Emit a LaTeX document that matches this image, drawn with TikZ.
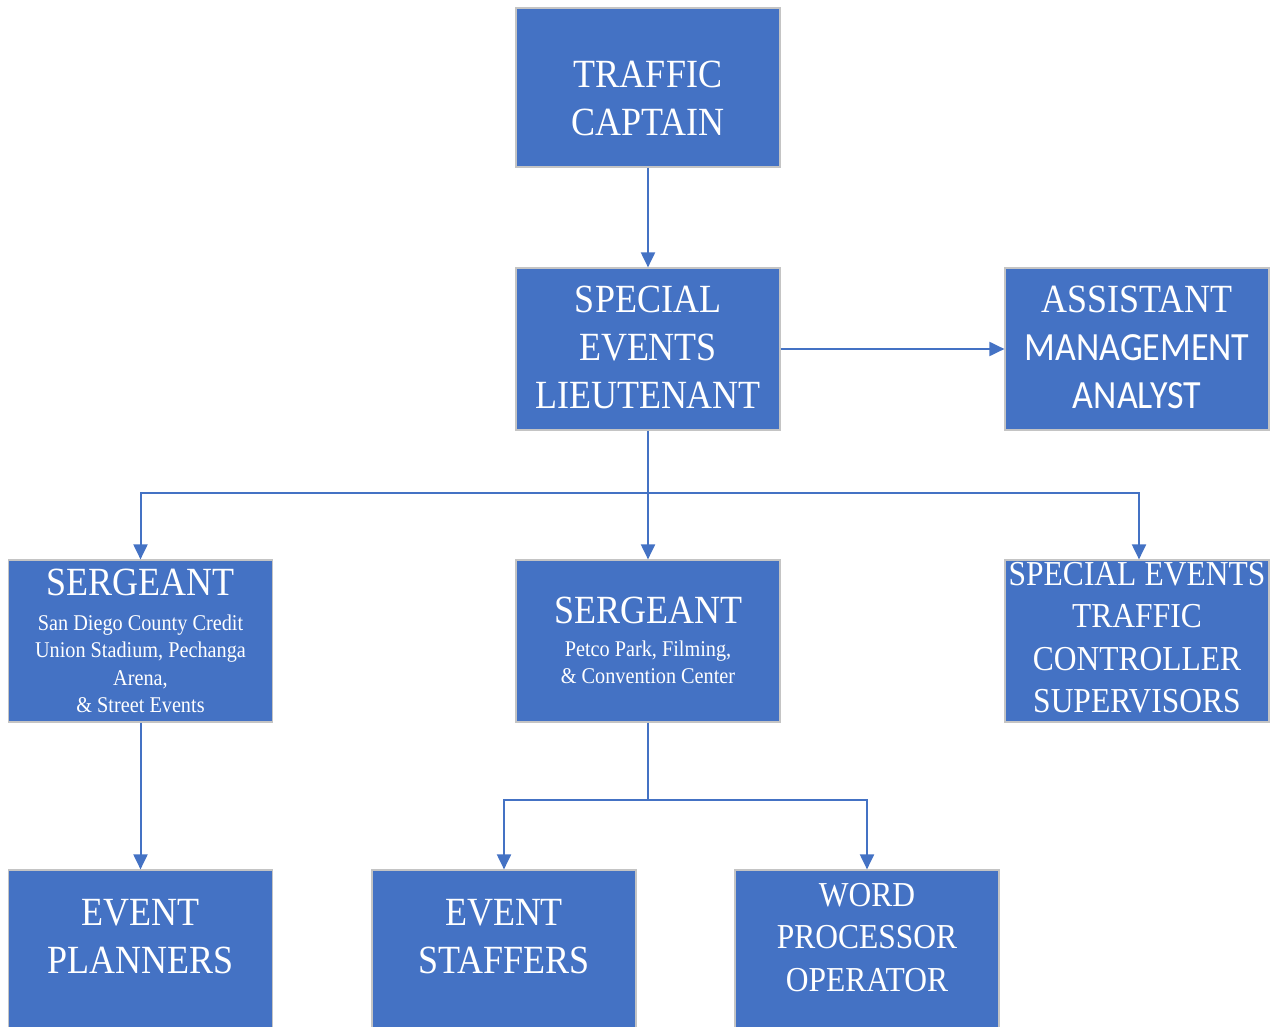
\documentclass[tikz,border=0pt]{standalone}
\usepackage{fontspec}
\setmainfont{Liberation Serif}[FakeStretch=0.9]
\newfontfamily\calib{Carlito}[FakeStretch=0.9]
\usetikzlibrary{arrows.meta}
\definecolor{boxblue}{HTML}{4472C4}
\definecolor{boxedge}{HTML}{C4C4C4}
\newcommand{\smalllines}[1]{{\fontsize{22.5}{27.5}\selectfont\spaceskip=0pt\xspaceskip=0pt\begin{tabular}[t]{@{}c@{}}#1\end{tabular}}}
\begin{document}
\begin{tikzpicture}[x=1pt,y=-1pt,
  box/.style={rectangle, fill=boxblue, draw=boxedge, line width=1.2pt, text=white,
    inner sep=0pt, minimum width=264pt, minimum height=#1, text width=264pt, align=center},
  box/.default=161pt,
  big/.style={font=\parindent0pt\fontsize{40}{48}\selectfont},
  mid/.style={font=\parindent0pt\fontsize{35}{42.5}\selectfont},
  conn/.style={draw=boxblue, line width=2pt, -{Triangle[width=14pt,length=15pt]}},
  plain/.style={draw=boxblue, line width=2pt}
]
\useasboundingbox (0,0) rectangle (1274,1027);
\clip (0,0) rectangle (1274,1027);

\node[box=159pt, big, text height=1pt, text depth=0pt] (cap) at (648,87.5) {TRAFFIC\\CAPTAIN};
\node[box=162pt, big, text height=0pt, text depth=74pt] (lt) at (648,349) {SPECIAL\\EVENTS\\LIEUTENANT};
\node[box=162pt, big, text height=0pt, text depth=74pt] (aa) at (1137,349) {ASSISTANT\\{\calib MANAGEMENT}\\{\calib ANALYST}};

\node[box=162pt, big, text height=0pt, text depth=92pt] (sgl) at (140.5,641)
  {SERGEANT\\[-13pt]\smalllines{San Diego County Credit\\Union Stadium, Pechanga\\Arena,\\\& Street Events}};
\node[box=162pt, big, text height=0pt, text depth=36pt] (sgm) at (648,641)
  {SERGEANT\\[-15pt]\smalllines{Petco Park, Filming,\\\& Convention Center}};
\node[box=162pt, mid, text height=0pt, text depth=112pt] (sts) at (1137,641)
  {\spaceskip=0pt SPECIAL EVENTS\\TRAFFIC\\CONTROLLER\\SUPERVISORS};

\node[box=170pt, big, text height=0pt, text depth=60pt] (ep) at (140.5,955) {EVENT\\PLANNERS};
\node[box=170pt, big, text height=0pt, text depth=60pt] (es) at (504,955) {EVENT\\STAFFERS};
\node[box=170pt, mid, text height=0pt, text depth=98pt] (wp) at (867,955) {WORD\\PROCESSOR\\OPERATOR};

\coordinate (bus) at (648,493);
\coordinate (bus2) at (648,800);

\draw[conn] (cap.south) -- (lt.north);
\draw[conn] (lt.east) -- (aa.west);
\draw[conn] (lt.south) -- (sgm.north);
\draw[conn] (bus) -| (sgl.north);
\draw[conn] (bus) -| ([xshift=2pt]sts.north);
\draw[conn] (sgl.south) -- (ep.north);
\draw[plain] (sgm.south) -- (bus2);
\draw[conn] (bus2) -| (es.north);
\draw[conn] (bus2) -| (wp.north);
\end{tikzpicture}
\end{document}
